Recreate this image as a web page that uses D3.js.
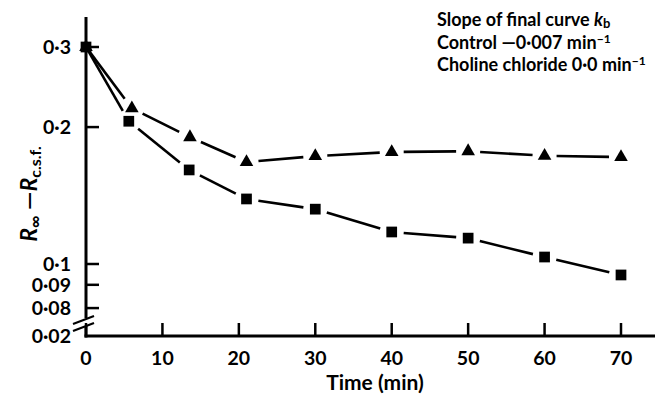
<!DOCTYPE html>
<html>
<head>
<meta charset="utf-8">
<script src="https://cdn.jsdelivr.net/npm/d3@7"></script>
<style>
  body { margin: 0; background: #fff; }
  svg { font-family: Lato, "Open Sans", sans-serif; font-weight: 700; }
</style>
</head>
<body>
<svg width="655" height="400"></svg>
<script>
// données
let tempsControle = [0, 5.6, 13.5, 21, 30, 40, 50, 60, 70];
let valControle = [0.3, 0.206, 0.161, 0.139, 0.132, 0.1176, 0.114, 0.1036, 0.0946];

let tempsCholine = [0, 6, 13.6, 21, 30, 40, 50, 60, 70];
let valCholine = [0.3, 0.22, 0.19, 0.1675, 0.1727, 0.1763, 0.177, 0.173, 0.1718];

let ticksX = [0, 10, 20, 30, 40, 50, 60, 70];
let ticksY = [0.3, 0.2, 0.1, 0.09, 0.08];
let labelsY = ["0·3", "0·2", "0·1", "0·09", "0·08"];

let svg = d3.select("svg");

let x = d3.scaleLinear().domain([0, 70]).range([86, 621]);
let y = d3.scaleLog().domain([0.1, 0.3]).range([264, 47]);

let yAxe = 336; // ligne de l'axe x (valeur 0·02 après la coupure)

// axes
svg.append("line")
    .attr("x1", 86).attr("x2", 86)
    .attr("y1", 17).attr("y2", 318)
    .attr("stroke", "black").attr("stroke-width", 3);
svg.append("line")
    .attr("x1", 86).attr("x2", 86)
    .attr("y1", 326).attr("y2", yAxe + 1.5)
    .attr("stroke", "black").attr("stroke-width", 3);
svg.append("line")
    .attr("x1", 84.5).attr("x2", 655)
    .attr("y1", yAxe).attr("y2", yAxe)
    .attr("stroke", "black").attr("stroke-width", 3);

// coupure
[0, 7].forEach(function (dy) {
    svg.append("line")
        .attr("x1", 73).attr("y1", 324 + dy)
        .attr("x2", 94).attr("y2", 316 + dy)
        .attr("stroke", "black").attr("stroke-width", 2.2);
});

// graduations x
svg.selectAll("line.tx").data(ticksX).enter()
    .append("line")
    .attr("class", "tx")
    .attr("x1", d => x(d)).attr("x2", d => x(d))
    .attr("y1", yAxe).attr("y2", yAxe - 13)
    .attr("stroke", "black").attr("stroke-width", 2.5);

svg.selectAll("text.tx").data(ticksX).enter()
    .append("text")
    .attr("class", "tx")
    .attr("x", d => x(d))
    .attr("y", 365)
    .attr("text-anchor", "middle")
    .attr("font-size", 19.5)
    .text(d => d);

// graduations y
svg.selectAll("line.ty").data(ticksY).enter()
    .append("line")
    .attr("class", "ty")
    .attr("x1", 86).attr("x2", 99)
    .attr("y1", d => y(d)).attr("y2", d => y(d))
    .attr("stroke", "black").attr("stroke-width", 2.5);

svg.selectAll("text.ty").data(ticksY).enter()
    .append("text")
    .attr("class", "ty")
    .attr("x", 71)
    .attr("y", d => y(d))
    .attr("dy", "0.35em")
    .attr("text-anchor", "end")
    .attr("font-size", 19.5)
    .text((d, i) => labelsY[i]);

svg.append("text")
    .attr("x", 71).attr("y", yAxe)
    .attr("dy", "0.35em")
    .attr("text-anchor", "end")
    .attr("font-size", 19.5)
    .text("0·02");

// titres des axes
svg.append("text")
    .attr("x", 375).attr("y", 390)
    .attr("text-anchor", "middle")
    .attr("font-size", 21)
    .text("Time (min)");

let titreY = svg.append("text")
    .attr("transform", "translate(37,194) rotate(-90)")
    .attr("text-anchor", "middle")
    .attr("font-size", 23);
titreY.append("tspan").attr("font-style", "italic").text("R");
titreY.append("tspan").attr("font-size", 17).attr("dy", 4).text("∞");
titreY.append("tspan").attr("dy", -4).text("  —");
titreY.append("tspan").attr("font-style", "italic").text("R");
titreY.append("tspan").attr("font-size", 16).attr("dy", 4).text("c.s.f.");

// note en haut à droite
let note = svg.append("g").attr("font-size", 18);
let l1 = note.append("text").attr("x", 437).attr("y", 26);
l1.append("tspan").text("Slope of final curve ");
l1.append("tspan").attr("font-style", "italic").text("k");
l1.append("tspan").attr("font-size", 13).attr("dy", 2).text("b");

let l2 = note.append("text").attr("x", 437).attr("y", 49);
l2.append("tspan").text("Control  —0·007 min");
l2.append("tspan").attr("font-size", 12).attr("dy", -6).text("−1");

let l3 = note.append("text").attr("x", 437).attr("y", 71);
l3.append("tspan").text("Choline chloride 0·0 min");
l3.append("tspan").attr("font-size", 12).attr("dy", -6).text("−1");

// courbes : segments avec un espace autour des marqueurs
function courbe(temps, valeurs, ecart) {
    let pts = temps.map((t, i) => [x(t), y(valeurs[i])]);
    let segs = [];
    for (let i = 0; i < pts.length - 1; i++) {
        let a = pts[i], b = pts[i + 1];
        let dx = b[0] - a[0], dy = b[1] - a[1];
        let L = Math.sqrt(dx * dx + dy * dy);
        let e0 = i == 0 ? 3 : ecart;
        segs.push({
            x1: a[0] + dx * e0 / L, y1: a[1] + dy * e0 / L,
            x2: b[0] - dx * ecart / L, y2: b[1] - dy * ecart / L
        });
    }
    return segs;
}

function dessine(temps, valeurs, forme, taille, cls) {
    svg.selectAll("line." + cls).data(courbe(temps, valeurs, 12)).enter()
        .append("line")
        .attr("class", cls)
        .attr("x1", d => d.x1).attr("y1", d => d.y1)
        .attr("x2", d => d.x2).attr("y2", d => d.y2)
        .attr("stroke", "black").attr("stroke-width", 2.6);

    svg.selectAll("path." + cls).data(temps).enter()
        .append("path")
        .attr("class", cls)
        .attr("d", d3.symbol().type(forme).size(taille))
        .attr("transform", (d, i) => "translate(" + x(d) + "," + y(valeurs[i]) + ")")
        .attr("fill", "black");
}

dessine(tempsCholine, valCholine, d3.symbolTriangle, 80, "choline");
dessine(tempsControle, valControle, d3.symbolSquare, 115, "controle");
</script>
</body>
</html>
